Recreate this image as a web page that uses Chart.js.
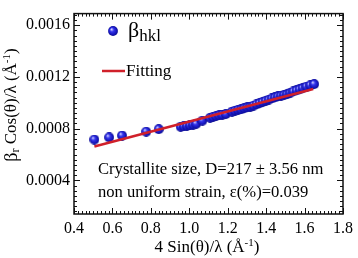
<!DOCTYPE html>
<html><head><meta charset="utf-8">
<script src="https://cdn.jsdelivr.net/npm/chart.js@4/dist/chart.umd.min.js"></script>
<style>html,body{margin:0;padding:0;background:#fff}#w{width:358px;height:258px}</style>
</head><body><div id="w"><canvas id="c" width="358" height="258"></canvas></div>
<script>
// ---- data ----
const betaX = [0.506,0.583,0.650,0.776,0.841,
  0.955,0.972,0.988,1.004,1.020,1.036,1.068,1.108,1.124,1.140,1.156,1.172,1.190,
  1.222,1.238,1.254,1.270,1.286,1.302,1.318,1.334,1.350,1.366,1.382,1.398,1.414,
  1.430,1.446,1.462,1.478,1.494,1.510,1.526,1.542,1.558,1.574,1.590,1.610,1.630,1.650];
const betaY = [0.000716,0.000733,0.000747,0.000777,0.000796,
  0.000815,0.000818,0.000822,0.000826,0.000832,0.000838,0.000862,0.000884,0.000892,0.000898,0.000903,0.000908,0.000913,
  0.000932,0.000940,0.000946,0.000950,0.000958,0.000964,0.000970,0.000978,0.000988,0.000998,0.001007,0.001016,0.001025,
  0.001034,0.001042,0.001050,0.001056,0.001062,0.001068,0.001078,0.001088,0.001096,0.001104,0.001114,0.001126,0.001136,0.001145];
const fitX = [0.506, 1.645];
const fitY = [0.000662, 0.001107];
const xTicks = [0.4,0.6,0.8,1.0,1.2,1.4,1.6,1.8];
const yTicks = [0.0004,0.0008,0.0012,0.0016];
const seriesNames = ['β|hkl', 'Fitting'];
const noteLines = ['Crystallite size, D=217 ± 3.56 nm', 'non uniform strain, ε(%)=0.039'];

const FONT = '"Liberation Serif", "DejaVu Serif", serif';
const BLUE_SPHERE = (() => {
  const s = 10, cv = document.createElement('canvas'); cv.width = s; cv.height = s;
  const g = cv.getContext('2d');
  const gr = g.createRadialGradient(3.4, 3.2, 0.3, 5, 5, 5.1);
  gr.addColorStop(0, '#d0d0ff'); gr.addColorStop(0.35, '#3434ec'); gr.addColorStop(0.8, '#1212b4'); gr.addColorStop(1, '#0a0a84');
  g.fillStyle = gr; g.beginPath(); g.arc(5, 5, 4.9, 0, Math.PI*2); g.fill();
  return cv;
})();
const RED = '#d0202a';

function drawRich(ctx, parts, x, y, align) {
  let total = 0;
  parts.forEach(p => { ctx.font = p.size + 'px ' + FONT; p.w = ctx.measureText(p.t).width; total += p.w; });
  let cx = align === 'center' ? x - total/2 : x;
  ctx.textBaseline = 'middle'; ctx.textAlign = 'left';
  parts.forEach(p => { ctx.font = p.size + 'px ' + FONT; ctx.fillText(p.t, cx, y + (p.dy||0)); cx += p.w; });
}

const decor = {
  id: 'decor',
  afterDraw(chart) {
    const ctx = chart.ctx, a = chart.chartArea, xs = chart.scales.x, ys = chart.scales.y;
    ctx.save();
    ctx.strokeStyle = '#111'; ctx.lineWidth = 1;
    for (let i = 0; i <= 70; i++) {
      const v = 0.4 + i*0.02, px = Math.round(xs.getPixelForValue(v)) + 0.5, len = (i % 10 === 0) ? 6 : 3;
      ctx.beginPath(); ctx.moveTo(px, a.bottom); ctx.lineTo(px, a.bottom - len);
      ctx.moveTo(px, a.top); ctx.lineTo(px, a.top + len); ctx.stroke();
    }
    for (let i = 0; i <= 50; i++) {
      const v = i*0.00004; if (v < ys.min || v > ys.max) continue;
      const py = Math.round(ys.getPixelForValue(v)) + 0.5, len = (i % 10 === 0) ? 6 : 3;
      ctx.beginPath(); ctx.moveTo(a.left, py); ctx.lineTo(a.left + len, py);
      ctx.moveTo(a.right, py); ctx.lineTo(a.right - len, py); ctx.stroke();
    }
    ctx.lineWidth = 1.5;
    ctx.strokeRect(a.left, a.top, a.right - a.left, a.bottom - a.top);
    ctx.fillStyle = '#000';
    // axis titles
    drawRich(ctx, [{t:'4 Sin(θ)/λ (Å', size:17},{t:'-1', size:11, dy:-5},{t:')', size:17}], 207, 248, 'center');
    ctx.save(); ctx.translate(12, 105); ctx.rotate(-Math.PI/2);
    drawRich(ctx, [{t:'β', size:18},{t:'r', size:12, dy:4},{t:' Cos(θ)/λ (Å', size:17},{t:'-1', size:11, dy:-5},{t:')', size:17}], 0, 0, 'center');
    ctx.restore();
    // legend
    ctx.drawImage(BLUE_SPHERE, 113 - 5, 31 - 5);
    const nm = seriesNames[0].split('|');
    drawRich(ctx, [{t:nm[0], size:22},{t:nm[1], size:17, dy:6}], 128, 31, 'left');
    ctx.strokeStyle = RED; ctx.lineWidth = 2.5;
    ctx.beginPath(); ctx.moveTo(102, 71); ctx.lineTo(125, 71); ctx.stroke();
    drawRich(ctx, [{t:seriesNames[1], size:17}], 126, 72, 'left');
    // note
    drawRich(ctx, [{t:noteLines[0], size:16.6}], 98, 170, 'left');
    drawRich(ctx, [{t:noteLines[1], size:16.6}], 98, 193, 'left');
    ctx.restore();
  }
};

new Chart(document.getElementById('c'), {
  type: 'scatter',
  data: {
    datasets: [
      { label: seriesNames[1], data: fitX.map((v,i)=>({x:v, y:fitY[i]})), showLine: true, borderColor: RED,
        borderWidth: 2.5, pointRadius: 0, order: 0 },
      { label: seriesNames[0], data: betaX.map((v,i)=>({x:v, y:betaY[i]})), pointStyle: BLUE_SPHERE, order: 1 }
    ]
  },
  options: {
    responsive: false, animation: false, devicePixelRatio: 1,
    layout: { padding: { top: 3, right: 11, left: 0, bottom: 0 } },
    plugins: { legend: { display: false }, tooltip: { enabled: false } },
    scales: {
      x: { type: 'linear', min: 0.4, max: 1.8,
        afterBuildTicks: s => { s.ticks = xTicks.map(v => ({value: v})); },
        afterFit: s => { s.height = 44; },
        grid: { drawOnChartArea: false, drawTicks: false }, border: { display: false },
        ticks: { padding: 5, color: '#000', font: { family: FONT, size: 16 }, callback: v => v.toFixed(1) } },
      y: { type: 'linear', min: 0.00014, max: 0.00169,
        afterBuildTicks: s => { s.ticks = yTicks.map(v => ({value: v})); },
        afterFit: s => { s.width = 74; },
        grid: { drawOnChartArea: false, drawTicks: false }, border: { display: false },
        ticks: { padding: 4, color: '#000', font: { family: FONT, size: 16 }, callback: v => v.toFixed(4) } }
    }
  },
  plugins: [decor]
});
</script></body></html>
